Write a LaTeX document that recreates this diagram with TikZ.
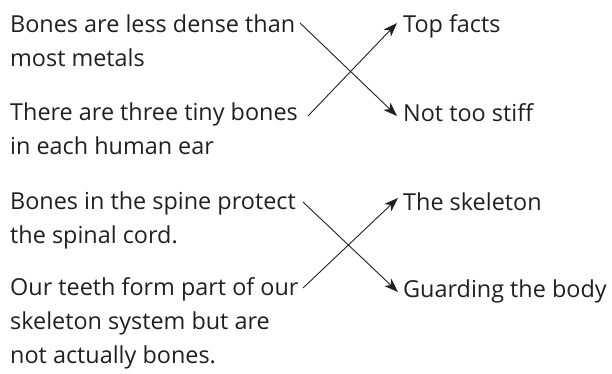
\documentclass[tikz,border=0pt]{standalone}
\usepackage{fontspec}
\setmainfont{Open Sans}
\usetikzlibrary{arrows.meta}
\definecolor{ink}{HTML}{231F20}
\begin{document}
\begin{tikzpicture}[x=1pt,y=-1pt,
  txt/.style={anchor=base west, inner sep=0pt, align=left, text=ink,
    font=\fontsize{23.4}{34}\selectfont},
  link/.style={draw=ink, line width=0.9pt, -{Stealth[length=14pt,width=10pt,inset=4pt]}}]
\useasboundingbox (0,0) rectangle (612,374);
% group 1 (base anchor = baseline of the last line)
\node[txt] (f1) at (10,67) {Bones are less dense than\\most metals};
\node[txt] (f2) at (10,155) {There are three tiny bones\\in each human ear};
\node[txt] (t1) at (403,33) {Top facts};
\node[txt] (t2) at (403,122) {Not too stiff};
\coordinate (s1) at (300,23);
\coordinate (s2) at (308,116);
\draw[link] (s1) -- ([xshift=-6pt,yshift=6pt]t2.base west);
\draw[link] (s2) -- ([xshift=-6pt,yshift=10pt]t1.base west);
% group 2
\node[txt] (f3) at (10,243) {Bones in the spine protect\\the spinal cord.};
\node[txt] (f4) at (10,363) {Our teeth form part of our\\skeleton system but are\\not actually bones.};
\node[txt] (t3) at (403,210) {The skeleton};
\node[txt] (t4) at (403,297) {Guarding the body};
\coordinate (s3) at (303,202);
\coordinate (s4) at (303,288);
\draw[link] (s3) -- ([xshift=-5pt,yshift=5pt]t4.base west);
\draw[link] (s4) -- ([xshift=-5pt,yshift=12pt]t3.base west);
\end{tikzpicture}
\end{document}
